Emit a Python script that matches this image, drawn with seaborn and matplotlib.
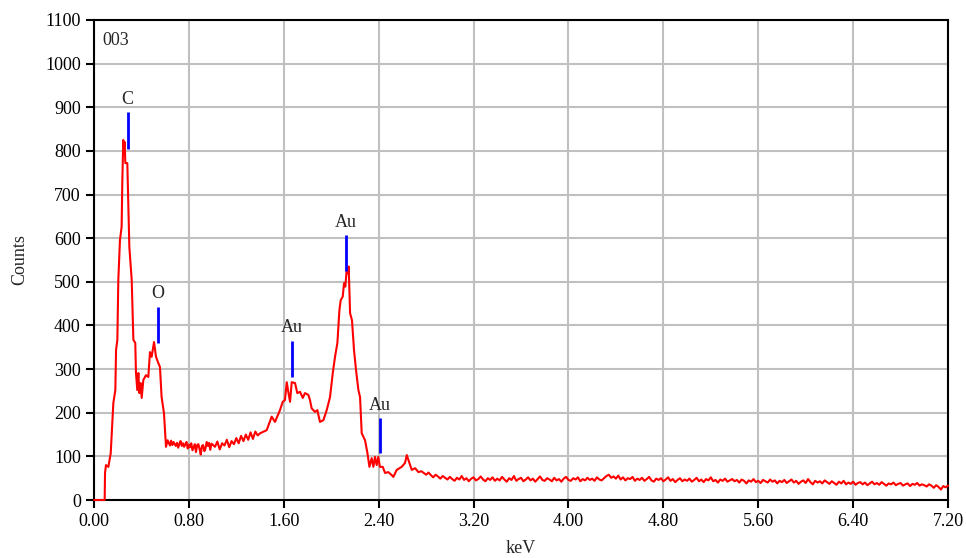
import numpy as np
import pandas as pd
import matplotlib
matplotlib.use("Agg")
import matplotlib.pyplot as plt
import seaborn as sns

# spectrum: energy (keV) and counts
peak_kev = [0.00, 0.09, 0.093, 0.101, 0.121, 0.141, 0.163, 0.180, 0.186, 0.197,
            0.205, 0.219, 0.233, 0.239, 0.247, 0.253, 0.259, 0.264, 0.281, 0.298,
            0.318, 0.332, 0.348, 0.354, 0.365, 0.374, 0.382, 0.393, 0.402, 0.416,
            0.438, 0.458, 0.472, 0.486, 0.506, 0.523, 0.542, 0.556, 0.570, 0.590,
            0.607, 0.621,
            0.64, 0.65, 0.66, 0.67, 0.68, 0.69, 0.70, 0.71, 0.72, 0.73,
            0.74, 0.75, 0.76, 0.77, 0.78, 0.79, 0.80, 0.81, 0.82, 0.83,
            0.84, 0.85, 0.86, 0.87, 0.88, 0.89, 0.90, 0.91, 0.92, 0.93,
            0.94, 0.95, 0.96, 0.97, 0.98, 0.99, 1.00, 1.02,
            1.04, 1.06, 1.08, 1.10, 1.12, 1.14, 1.16, 1.18, 1.20, 1.22,
            1.24, 1.26, 1.28, 1.30, 1.32, 1.34, 1.36, 1.38,
            1.400, 1.456, 1.498, 1.526, 1.568, 1.591, 1.610, 1.625, 1.638, 1.653,
            1.667, 1.695, 1.714, 1.737, 1.760, 1.779, 1.807, 1.821, 1.835, 1.863,
            1.883, 1.905, 1.934, 1.962, 1.990, 2.013, 2.032, 2.052, 2.069, 2.080,
            2.097, 2.108, 2.119, 2.131, 2.142, 2.147, 2.159, 2.175, 2.192, 2.209,
            2.229, 2.243, 2.257, 2.285, 2.305, 2.322, 2.341, 2.355, 2.369, 2.383,
            2.397, 2.410, 2.434, 2.454, 2.481, 2.510, 2.524, 2.552, 2.594, 2.622,
            2.637, 2.659, 2.679, 2.707, 2.735]
peak_counts = [0, 0, 62, 80, 76, 107, 222, 252, 344, 367,
               504, 596, 626, 733, 825, 809, 820, 772, 772, 580,
               504, 367, 360, 291, 252, 291, 245, 268, 234, 275,
               286, 282, 339, 328, 362, 328, 314, 305, 236, 199,
               122, 137,
               125, 136, 126, 133, 128, 124, 131, 120, 129, 135,
               124, 130, 122, 128, 133, 118, 127, 121, 130, 114,
               121, 128, 110, 126, 128, 117, 104, 124, 126, 112,
               118, 133, 124, 131, 115, 129, 127, 122,
               134, 116, 130, 125, 138, 121, 135, 128, 142, 130,
               147, 135, 150, 138, 155, 140, 157, 148,
               153, 160, 191, 179, 206, 225, 229, 270, 248, 225,
               270, 268, 245, 248, 234, 245, 241, 229, 210, 202,
               206, 179, 183, 206, 236, 291, 328, 360, 435, 458,
               466, 497, 489, 531, 519, 535, 428, 412, 344, 298,
               252, 236, 153, 137, 108, 76, 96, 76, 99, 80,
               99, 76, 76, 62, 64, 57, 53, 69, 76, 85,
               103, 85, 69, 73, 64]

# flat tail, one value every 0.02 keV from 2.76 to 7.20
tail_counts = [66, 62, 58, 63, 57, 52, 58, 54, 49, 55, 51, 47,
               53, 48, 44, 51, 47, 55, 46, 50, 43, 49, 52, 45, 48, 54, 47, 43, 50, 46, 52, 44,
               49, 45, 53, 47, 42, 50, 46, 55, 44, 48, 51, 43, 47, 52, 45, 49, 42, 48, 54, 46,
               44, 50, 47, 43, 51, 45, 48, 42, 49, 53, 46, 44, 50, 47, 52, 43, 48, 45, 51, 46,
               49, 44, 52, 47, 45, 50, 55, 58, 51, 54, 49, 56, 47, 52, 45, 50, 48, 53, 44, 49,
               46, 51, 44, 48, 53, 45, 42, 49, 46, 50, 43, 47, 52, 44, 48, 41, 46, 50, 43, 47,
               44, 49, 42, 46, 51, 43, 47, 41, 48, 45, 52, 43, 46, 40, 47, 44, 49, 42, 45, 48,
               43, 46, 40, 47, 44, 38, 45, 42, 48, 41, 44, 39, 46, 43, 40, 47, 42, 45, 38, 44,
               41, 46, 39, 43, 47, 40, 44, 37, 42, 45, 39, 48, 41, 36, 44, 40, 43, 38, 45, 41,
               37, 43, 39, 35, 42, 38, 44, 36, 40, 37, 42, 35, 39, 41, 36, 40, 34, 38, 42, 36,
               39, 35, 41, 37, 33, 38, 36, 40, 34, 37, 39, 33, 36, 38, 32, 37, 35, 39, 33, 36,
               34, 31, 36, 33, 28, 34, 30, 24, 32, 29, 33]
tail_kev = np.round(2.76 + 0.02 * np.arange(len(tail_counts)), 2)

# element markers
marker_names = ["C", "O", "Au", "Au", "Au"]
marker_kev = [0.284, 0.540, 1.667, 2.125, 2.410]
marker_lo = [804, 360, 283, 525, 107]
marker_hi = [888, 443, 365, 607, 188]

x_ticks = [0.00, 0.80, 1.60, 2.40, 3.20, 4.00, 4.80, 5.60, 6.40, 7.20]
y_ticks = list(range(0, 1101, 100))

df = pd.DataFrame({"keV": list(peak_kev) + list(tail_kev),
                   "Counts": list(peak_counts) + list(tail_counts)})

sns.set_style("white")
plt.rcParams['font.family'] = ['Liberation Serif', 'DejaVu Serif']

fig = plt.figure(figsize=(9.66, 5.58), dpi=100)
ax = fig.add_axes([0.0973, 0.1039, 0.8841, 0.8603])

sns.lineplot(data=df, x="keV", y="Counts", color="red", lw=1.5,
             sort=False, estimator=None, ax=ax, zorder=5, clip_on=False)

ax.vlines(marker_kev, marker_lo, marker_hi, color="blue", lw=2, zorder=6)
for name, k, hi in zip(marker_names, marker_kev, marker_hi):
    ax.text(k, hi + 10, name, ha="center", va="bottom", fontsize=13)

ax.text(0.01, 0.975, "003", transform=ax.transAxes, ha="left", va="top", fontsize=13)

ax.set_xlim(0, 7.2)
ax.set_ylim(0, 1100)
ax.set_xticks(x_ticks)
ax.set_xticklabels([f"{t:.2f}" for t in x_ticks])
ax.set_yticks(y_ticks)
ax.grid(True, color="#c0c0c0", lw=1.5)
ax.set_axisbelow(True)
for s in ax.spines.values():
    s.set_color("black")
    s.set_linewidth(1.5)
    s.set_zorder(4)
ax.tick_params(direction="out", length=6, width=1.5, labelsize=13, colors="black",
               bottom=True, left=True)
ax.set_xlabel("keV", fontsize=13, labelpad=7)
ax.set_ylabel("Counts", fontsize=13, labelpad=12)

fig.savefig("out.png", dpi=100)
